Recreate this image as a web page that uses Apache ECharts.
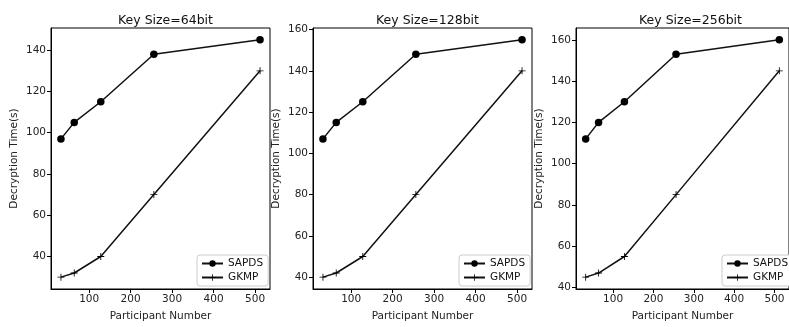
<!DOCTYPE html>
<html><head><meta charset="utf-8">
<script src="https://cdn.jsdelivr.net/npm/echarts@6/dist/echarts.min.js"></script>
<style>html,body{margin:0;padding:0;background:#fff}#c{width:789px;height:327px}</style>
</head><body><div id="c"></div>
<script>
const participants = [32, 64, 128, 256, 512];
const titles = ['Key Size=64bit', 'Key Size=128bit', 'Key Size=256bit'];
const sapds64 = [97, 105, 115, 138, 145];
const gkmp64 = [30, 32, 40, 70, 130];
const sapds128 = [107, 115, 125, 148, 155];
const gkmp128 = [40, 42, 50, 80, 140];
const sapds256 = [112, 120, 130, 153, 160];
const gkmp256 = [45, 47, 55, 85, 145];
const xTicks = [100, 200, 300, 400, 500];
const yTicks64 = [40, 60, 80, 100, 120, 140];
const yTicks128 = [40, 60, 80, 100, 120, 140, 160];
const yTicks256 = [40, 60, 80, 100, 120, 140, 160];

const panels = [
  {sapds: sapds64, gkmp: gkmp64, yTicks: yTicks64},
  {sapds: sapds128, gkmp: gkmp128, yTicks: yTicks128},
  {sapds: sapds256, gkmp: gkmp256, yTicks: yTicks256}
];
const lefts = [51, 313, 576];
const W = 219;
const FONT = 'DejaVu Sans';
const plus = 'path://M4.4,0h1.2v10h-1.2z M0,4.4h10v1.2h-10z';

function pad(arr) {
  const lo = Math.min(...arr), hi = Math.max(...arr), m = (hi - lo) * 0.05;
  return [lo - m, hi + m];
}
const xr = pad(participants);

const option = {
  animation: false,
  backgroundColor: '#fff',
  title: [], grid: [], xAxis: [], yAxis: [], series: [], legend: []
};
panels.forEach((p, i) => {
  const yr = pad(p.sapds.concat(p.gkmp));
  option.title.push({
    text: titles[i], left: lefts[i] + W / 2, top: 9, textAlign: 'center',
    textStyle: {fontFamily: FONT, fontSize: 12.5, fontWeight: 'normal', color: '#111'}
  });
  option.grid.push({left: lefts[i], top: 28, width: W, height: 267, show: true,
    borderColor: '#000', borderWidth: 1, backgroundColor: 'transparent'});
  option.xAxis.push({
    type: 'value', gridIndex: i, min: xr[0], max: xr[1],
    name: 'Participant Number', nameLocation: 'middle', nameGap: 22,
    nameTextStyle: {fontFamily: FONT, fontSize: 10.5, color: '#222'},
    axisLine: {show: true, lineStyle: {color: '#000', width: 1}},
    axisTick: {show: true, length: 4, lineStyle: {color: '#000'}, customValues: xTicks},
    axisLabel: {fontFamily: FONT, fontSize: 10.5, color: '#222', margin: 5, customValues: xTicks},
    splitLine: {show: false}
  });
  option.yAxis.push({
    type: 'value', gridIndex: i, min: yr[0], max: yr[1],
    name: 'Decryption Time(s)', nameLocation: 'middle', nameGap: 31,
    nameTextStyle: {fontFamily: FONT, fontSize: 10.5, color: '#222'},
    axisLine: {show: true, lineStyle: {color: '#000', width: 1}},
    axisTick: {show: true, length: 4, lineStyle: {color: '#000'}, customValues: p.yTicks},
    axisLabel: {fontFamily: FONT, fontSize: 10.5, color: '#222', margin: 5, customValues: p.yTicks},
    splitLine: {show: false}
  });
  option.series.push({
    name: 'SAPDS', type: 'line', xAxisIndex: i, yAxisIndex: i,
    data: participants.map((x, k) => [x, p.sapds[k]]),
    symbol: 'circle', symbolSize: 7.5,
    lineStyle: {color: '#111', width: 1.5}, itemStyle: {color: '#000'}
  });
  option.series.push({
    name: 'GKMP', type: 'line', xAxisIndex: i, yAxisIndex: i,
    data: participants.map((x, k) => [x, p.gkmp[k]]),
    symbol: plus, symbolSize: 7,
    lineStyle: {color: '#111', width: 1.5}, itemStyle: {color: '#000'}
  });
  option.legend.push({
    data: ['SAPDS', 'GKMP'], orient: 'vertical',
    left: lefts[i] + W - 73, top: 255,
    itemWidth: 21, itemHeight: 8, itemGap: 3,
    padding: [3, 5, 3, 4],
    backgroundColor: '#fff', borderColor: '#ccc', borderWidth: 1, borderRadius: 3,
    textStyle: {fontFamily: FONT, fontSize: 10.5, color: '#111'},
    selectedMode: false
  });
});
const chart = echarts.init(document.getElementById('c'), null, {renderer: 'canvas'});
chart.setOption(option);
</script></body></html>
